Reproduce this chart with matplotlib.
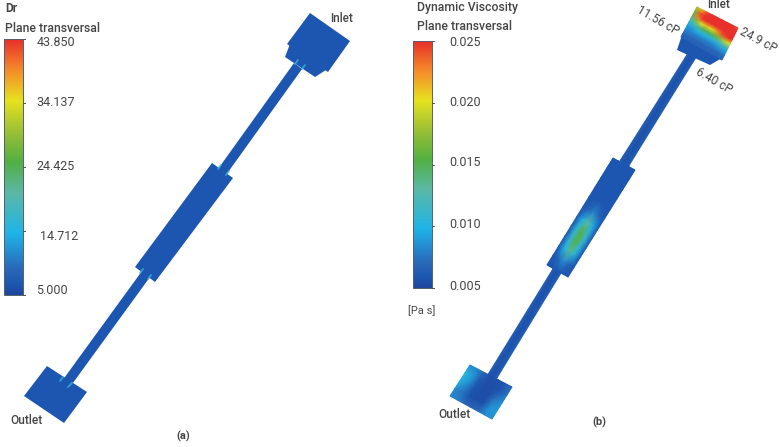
import matplotlib
matplotlib.use("Agg")
import matplotlib.pyplot as plt
from matplotlib.colors import LinearSegmentedColormap, Normalize
from matplotlib.patches import Polygon
import numpy as np

plt.rcParams['font.family'] = ['Roboto', 'DejaVu Sans']

# ---- colour scale
scale_stops = [0.0, 0.04, 0.10, 0.24, 0.40, 0.52, 0.64, 0.76, 0.88, 1.0]
scale_colors = ['#1f469e', '#1d56b0', '#2a68b8', '#1fb4e8', '#5cb8a6', '#52b043',
                '#9cc035', '#e6e21f', '#f58b2a', '#e8302b']
cmap = LinearSegmentedColormap.from_list('sim', list(zip(scale_stops, scale_colors)))

# ---- colour bars
dr_ticks = [5.000, 14.712, 24.425, 34.137, 43.850]
dr_labels = ['5.000', '14.712', '24.425', '34.137', '43.850']
dr_tick_y = [295, 231, 167, 103, 39]
dr_label_xy = [(36, 291), (40, 236), (36, 167), (36, 103), (37, 43)]
visc_ticks = [0.005, 0.010, 0.015, 0.020, 0.025]
visc_labels = ['0.005', '0.010', '0.015', '0.020', '0.025']
visc_tick_y = [288, 226, 165, 103, 41]
visc_label_x = 449
visc_label_y = [287, 225, 163, 102, 43]

# ---- geometry of panel (a), pixel coordinates
a_inlet_box = [(310, 13), (350, 41), (328, 72), (287, 44)]
a_inlet_step = [(290, 44), (285, 57), (315, 77), (326, 70)]
a_channel_top = [(294, 63), (302, 69), (226, 175), (218, 169)]
a_chamber = [(212, 163), (233, 178), (155, 282), (135, 267)]
a_channel_bottom = [(142, 271), (150, 277), (70, 387), (62, 381)]
a_outlet = [(47, 366), (87, 392), (64, 423), (24, 396)]
a_glints = [((295, 64), (298, 60)), ((302, 69), (305, 65)),
            ((218, 169), (221, 165)), ((226, 175), (229, 171)),
            ((140, 273), (143, 269)), ((148, 279), (151, 275)),
            ((60, 381), (63, 377)), ((68, 387), (72, 383))]

# ---- geometry of panel (b)
b_inlet_box = [(697, 7), (738, 28), (722, 60), (681, 37)]
b_inlet_step = [(682, 35), (677, 50), (710, 65), (722, 58)]
b_channel_top = [(690, 50), (698, 54), (628, 167), (620, 161)]
b_chamber = [(613, 158), (635, 170), (568, 277), (547, 265)]
b_channel_bottom = [(556, 264), (564, 268), (492, 386), (484, 381)]
b_outlet = [(470, 365), (512, 387), (492, 419), (450, 396)]

# ---- viscosity tables (Pa s) on each body, rows go away from first edge
b_inlet_table = [
    [0.018, 0.021, 0.024, 0.025, 0.025, 0.025, 0.025, 0.025, 0.024],
    [0.017, 0.024, 0.025, 0.025, 0.025, 0.025, 0.025, 0.025, 0.025],
    [0.016, 0.023, 0.025, 0.025, 0.025, 0.025, 0.025, 0.025, 0.025],
    [0.013, 0.017, 0.020, 0.021, 0.020, 0.022, 0.024, 0.025, 0.025],
    [0.010, 0.012, 0.014, 0.015, 0.015, 0.016, 0.017, 0.019, 0.020],
    [0.009, 0.009, 0.010, 0.010, 0.010, 0.0105, 0.011, 0.012, 0.013],
    [0.008, 0.008, 0.008, 0.008, 0.008, 0.008, 0.0085, 0.009, 0.009],
    [0.007, 0.007, 0.007, 0.007, 0.007, 0.007, 0.007, 0.007, 0.0075],
    [0.0065, 0.0065, 0.0065, 0.0065, 0.0065, 0.0065, 0.0065, 0.0065, 0.0065],
]
b_chamber_table = [
    [0.0058, 0.0058, 0.0058, 0.0058, 0.0058],
    [0.0058, 0.0058, 0.0058, 0.0058, 0.0058],
    [0.0058, 0.0058, 0.0058, 0.0058, 0.0058],
    [0.0058, 0.0058, 0.0058, 0.0058, 0.0058],
    [0.0058, 0.0058, 0.0060, 0.0058, 0.0058],
    [0.0058, 0.0066, 0.0080, 0.0066, 0.0058],
    [0.0060, 0.0095, 0.0130, 0.0095, 0.0060],
    [0.0060, 0.0110, 0.0155, 0.0110, 0.0060],
    [0.0060, 0.0110, 0.0155, 0.0110, 0.0060],
    [0.0060, 0.0100, 0.0135, 0.0100, 0.0060],
    [0.0058, 0.0068, 0.0085, 0.0068, 0.0058],
    [0.0058, 0.0058, 0.0058, 0.0058, 0.0058],
]
b_outlet_table = [
    [0.0085, 0.0080, 0.0070, 0.0056, 0.0056, 0.0060, 0.0072],
    [0.0105, 0.0090, 0.0062, 0.0054, 0.0054, 0.0060, 0.0075],
    [0.0100, 0.0085, 0.0058, 0.0054, 0.0054, 0.0075, 0.0085],
    [0.0085, 0.0075, 0.0058, 0.0054, 0.0056, 0.0085, 0.0090],
    [0.0080, 0.0080, 0.0070, 0.0070, 0.0072, 0.0085, 0.0085],
]
b_channel_table = [[0.0064, 0.0056, 0.0064], [0.0064, 0.0056, 0.0064]]

# ---- text
titles_a = ['Dr', 'Plane transversal']
titles_b = ['Dynamic Viscosity', 'Plane transversal']
text_color = '#454545'

fig = plt.figure(figsize=(7.8, 4.47), dpi=100)
ax = fig.add_axes([0, 0, 1, 1])
ax.axis('off')

vnorm = Normalize(0.005, 0.025)


def body(points, value, zorder=2):
    ax.add_patch(Polygon(points, closed=True, facecolor=cmap(vnorm(value)),
                         edgecolor='none', zorder=zorder))


def field(table, points, zorder=3):
    """Smooth shaded table spread over a four-cornered body."""
    values = np.array(table, float)
    p = np.array(points, float)
    rows, cols = values.shape
    u, v = np.meshgrid(np.linspace(0, 1, cols), np.linspace(0, 1, rows))
    x = (1-u)*(1-v)*p[0, 0] + u*(1-v)*p[1, 0] + u*v*p[2, 0] + (1-u)*v*p[3, 0]
    y = (1-u)*(1-v)*p[0, 1] + u*(1-v)*p[1, 1] + u*v*p[2, 1] + (1-u)*v*p[3, 1]
    ax.pcolormesh(x, y, values, shading='gouraud', cmap=cmap, norm=vnorm, zorder=zorder)


def colorbar(x0, x1, y_top, y_bot):
    grad = np.linspace(1, 0, 256).reshape(-1, 1)
    ax.imshow(grad, extent=(x0, x1, y_bot, y_top), cmap=cmap, vmin=0, vmax=1,
              aspect='auto', zorder=2)
    ax.add_patch(Polygon([(x0, y_top), (x1, y_top), (x1, y_bot), (x0, y_bot)], closed=True,
                         fill=False, edgecolor='#55606a', linewidth=0.7, zorder=3))


# panel (a)
for poly in (a_channel_top, a_channel_bottom, a_inlet_step, a_chamber, a_outlet, a_inlet_box):
    body(poly, 0.0058)
for p, q in a_glints:
    ax.plot([p[0], q[0]], [p[1], q[1]], color='#35b4dc', linewidth=1.3, alpha=0.8,
            solid_capstyle='round', zorder=4)

# panel (b): channels first, the larger bodies on top of their ends
field(b_channel_table, b_channel_top, zorder=2)
field(b_channel_table, b_channel_bottom, zorder=2)
for poly in (b_inlet_step, b_chamber, b_outlet, b_inlet_box):
    body(poly, 0.0058, zorder=3)
field(b_chamber_table, b_chamber, zorder=4)
field(b_outlet_table, b_outlet, zorder=4)
field(b_inlet_table, b_inlet_box, zorder=4)

# colour bars
colorbar(4, 23, 39, 295)
colorbar(413, 432, 41, 288)
for y in dr_tick_y:
    ax.plot([23, 25], [y, y], color='#555555', linewidth=0.7, zorder=3)
for y in visc_tick_y:
    ax.plot([432, 434], [y, y], color='#555555', linewidth=0.7, zorder=3)
for (x, y), label in zip(dr_label_xy, dr_labels):
    ax.text(x, y, label, fontsize=9, color=text_color, va='center', ha='left')
for y, label in zip(visc_label_y, visc_labels):
    ax.text(visc_label_x, y, label, fontsize=9, color=text_color, va='center', ha='left')

ax.text(5, 9, titles_a[0], fontsize=8.6, color=text_color, va='center', fontweight='bold')
ax.text(5, 28, titles_a[1], fontsize=8.8, color=text_color, va='center', fontweight='medium')
ax.text(417, 7, titles_b[0], fontsize=8.8, color=text_color, va='center', fontweight='medium')
ax.text(417, 26, titles_b[1], fontsize=8.8, color=text_color, va='center', fontweight='medium')
ax.text(408, 311, '[Pa s]', fontsize=8, color=text_color, va='center')

ax.text(330, 18, 'Inlet', fontsize=8.4, color=text_color, va='center', fontweight='medium')
ax.text(707, 5, 'Inlet', fontsize=8.4, color=text_color, va='center', fontweight='medium', zorder=6)
ax.text(10, 420, 'Outlet', fontsize=8.6, color=text_color, va='center', fontweight='medium')
ax.text(438, 414, 'Outlet', fontsize=8.6, color=text_color, va='center', fontweight='medium')
ax.text(658, 21, '11.56 cP', fontsize=8.6, color=text_color, va='center', ha='center',
        rotation=-30, rotation_mode='anchor')
ax.text(758, 40, '24.9 cP', fontsize=8.6, color=text_color, va='center', ha='center',
        rotation=-28, rotation_mode='anchor')
ax.text(714, 81, '6.40 cP', fontsize=8.6, color=text_color, va='center', ha='center',
        rotation=-30, rotation_mode='anchor')
ax.text(183, 436, '(a)', fontsize=8, color=text_color, va='center', ha='center', fontweight='bold')
ax.text(599, 422, '(b)', fontsize=8, color=text_color, va='center', ha='center', fontweight='bold')

ax.set_xlim(0, 780)
ax.set_ylim(447, 0)
fig.savefig('out.png', dpi=100)
